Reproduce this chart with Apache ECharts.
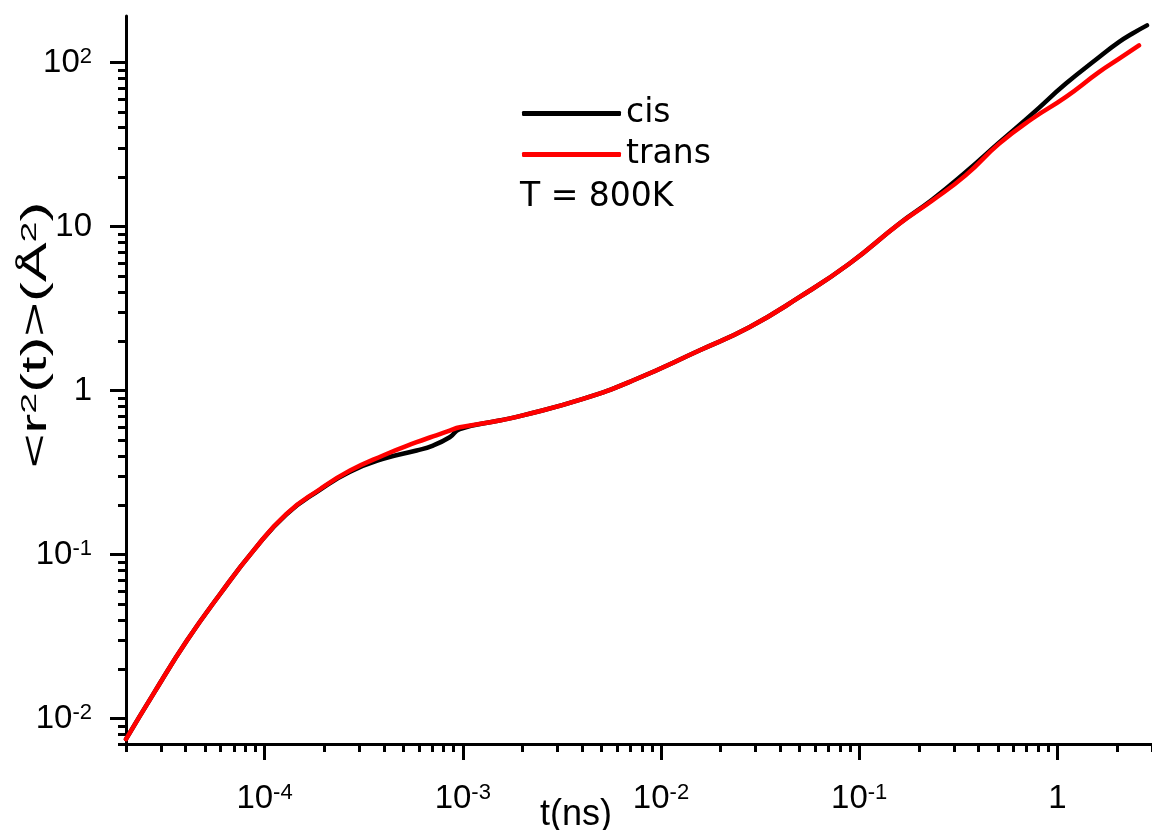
<!DOCTYPE html>
<html lang="en">
<head>
  <meta charset="UTF-8">
  <title>MSD cis / trans, T = 800K</title>
  <script src="https://cdn.jsdelivr.net/npm/echarts@6/dist/echarts.min.js"></script>
  <style>
    html, body { margin: 0; padding: 0; background: #fff; }
    #main { width: 1152px; height: 830px; }
  </style>
</head>
<body>
  <div id="main"></div>
  <script>
    // t (ns) and <r^2(t)> (Å^2)
    var tCis = [2.0e-5, 2.75e-5, 4.06e-5, 5.97e-5, 8.79e-5, 1.29e-4, 1.91e-4, 2.70e-4, 3.96e-4, 5.85e-4,
      7.08e-4, 8.59e-4, 9.66e-4, 1.53e-3, 2.01e-3, 4.04e-3, 7.21e-3, 0.0156, 0.0279, 0.0499,
      0.0891, 0.159, 0.234, 0.344, 0.507, 0.746, 1.10, 1.62, 2.04, 2.38, 2.83];
    var msdCis = [0.0075, 0.01416, 0.0299, 0.0575, 0.1057, 0.176, 0.249, 0.32, 0.383, 0.431,
      0.462, 0.519, 0.582, 0.656, 0.705, 0.889, 1.151, 1.754, 2.432, 3.707,
      5.93, 10.4, 14.6, 21.4, 32.4, 48.6, 74.1, 107.6, 133, 149.6, 168.3];

    var tTrans = [2.0e-5, 2.75e-5, 4.06e-5, 5.97e-5, 8.79e-5, 1.29e-4, 1.91e-4, 2.70e-4, 3.96e-4, 5.85e-4,
      7.08e-4, 8.59e-4, 9.66e-4, 1.53e-3, 2.01e-3, 4.04e-3, 7.21e-3, 0.0156, 0.0279, 0.0499,
      0.0891, 0.159, 0.234, 0.344, 0.507, 0.746, 1.10, 1.62, 2.04, 2.58];
    var msdTrans = [0.0075, 0.01416, 0.0299, 0.0575, 0.1057, 0.177, 0.251, 0.325, 0.402, 0.484,
      0.525, 0.570, 0.597, 0.656, 0.705, 0.889, 1.151, 1.754, 2.432, 3.707,
      5.93, 10.37, 14.4, 20.5, 31.9, 45.4, 61.5, 87.3, 105, 127];

    // tick labels
    var xMajor = [1e-4, 1e-3, 1e-2, 1e-1, 1];
    var xMajorText = ['10^-4', '10^-3', '10^-2', '10^-1', '1'];
    var yMajor = [0.01, 0.1, 1, 10, 100];
    var yMajorText = ['10^-2', '10^-1', '1', '10', '10^2'];

    var xMin = 2e-5, xMax = 3;
    var yMin = 0.007, yMax = 192;

    // minor ticks 2..9 x 10^k inside the range
    function minorTicks(lo, hi) {
      var out = [];
      for (var e = -6; e <= 3; e++) {
        for (var m = 2; m <= 9; m++) {
          var v = +(m * Math.pow(10, e)).toPrecision(3);
          if (v >= lo * 0.999 && v <= hi * 1.001) out.push(v);
        }
      }
      return out;
    }
    var xMinor = minorTicks(xMin, xMax);
    var yMinor = minorTicks(yMin, yMax);

    var font = 'Liberation Sans';
    var wideFont = 'DejaVu Sans';

    function toRich(s) {
      return s.replace(/\^(.+)$/, '{sup|$1}');
    }
    function labelFor(ticks, texts) {
      return function (v) {
        for (var i = 0; i < ticks.length; i++) {
          if (Math.abs(Math.log10(v) - Math.log10(ticks[i])) < 1e-6) return toRich(texts[i]);
        }
        return '';
      };
    }

    var richSup = {
      sup: { fontSize: 22, fontFamily: font, color: '#000', verticalAlign: 'top' }
    };

    function makeAxis(isX, minor) {
      var min = isX ? xMin : yMin;
      var max = isX ? xMax : yMax;
      var major = isX ? xMajor : yMajor;
      return {
        type: 'log',
        logBase: 10,
        min: min,
        max: max,
        position: isX ? 'bottom' : 'left',
        axisLine: { show: !minor, onZero: false, lineStyle: { color: '#000', width: 3 } },
        axisTick: {
          show: true,
          inside: false,
          length: minor ? 8 : 16,
          customValues: minor ? (isX ? xMinor : yMinor) : major,
          lineStyle: { color: '#000', width: 3 }
        },
        axisLabel: {
          show: !minor,
          customValues: major,
          margin: isX ? 38 : 34,
          fontSize: 33,
          fontFamily: font,
          color: '#000',
          formatter: labelFor(major, isX ? xMajorText : yMajorText),
          rich: richSup
        },
        minorTick: { show: false },
        splitLine: { show: false }
      };
    }

    var myChart = echarts.init(document.getElementById('main'));
    var option = {
      animation: false,
      backgroundColor: '#fff',
      grid: { left: 126, top: 16, right: -2, bottom: 86, containLabel: false },
      xAxis: [makeAxis(true, false), makeAxis(true, true)],
      yAxis: [makeAxis(false, false), makeAxis(false, true)],
      legend: {
        orient: 'vertical',
        left: 517,
        top: 92,
        itemWidth: 99,
        itemHeight: 5,
        itemGap: 8,
        icon: 'roundRect',
        textStyle: { fontSize: 33, fontFamily: wideFont, color: '#000' },
        data: ['cis', 'trans']
      },
      graphic: [
        {
          type: 'text', left: 520, top: 181,
          style: { text: 'T = 800K', fontSize: 33, fontFamily: wideFont, fill: '#000' }
        },
        {
          type: 'text', x: 576, y: 797,
          style: { text: 't(ns)', fontSize: 36, fontFamily: font, fill: '#000', align: 'center', verticalAlign: 'top' }
        },
        {
          type: 'text', x: 36, y: 335, rotation: Math.PI / 2, scaleX: 1.7,
          style: {
            text: '<r{sup|2}(t)>(Å{sup|2})', fontSize: 35, fontFamily: font, fill: '#000',
            align: 'center', verticalAlign: 'middle',
            rich: { sup: { fontSize: 22, fontFamily: font, fill: '#000', verticalAlign: 'top' } }
          }
        }
      ],
      series: [
        {
          name: 'cis',
          type: 'line',
          xAxisIndex: 0, yAxisIndex: 0,
          data: tCis.map(function (t, i) { return [t, msdCis[i]]; }),
          showSymbol: false,
          symbol: 'none',
          smooth: 0.5,
          itemStyle: { color: '#000' },
          lineStyle: { color: '#000', width: 4.5, cap: 'round', join: 'round' }
        },
        {
          name: 'trans',
          type: 'line',
          xAxisIndex: 0, yAxisIndex: 0,
          data: tTrans.map(function (t, i) { return [t, msdTrans[i]]; }),
          showSymbol: false,
          symbol: 'none',
          smooth: 0.5,
          itemStyle: { color: '#ff0000' },
          lineStyle: { color: '#ff0000', width: 4.5, cap: 'round', join: 'round' }
        }
      ]
    };
    myChart.setOption(option);
  </script>
</body>
</html>
